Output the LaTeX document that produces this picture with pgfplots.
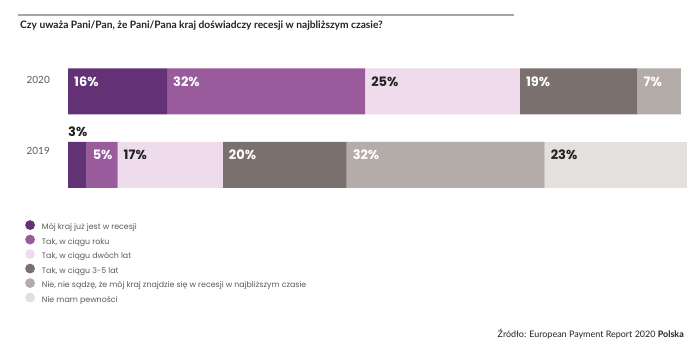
\documentclass[border=0pt]{standalone}
\usepackage{pgfplots}
\pgfplotsset{compat=1.18}
\usepackage{fontspec}
\setmainfont{Lato}
\newfontfamily\labfont{Poppins}
\definecolor{c1}{HTML}{633276}
\definecolor{c2}{HTML}{9A5B9C}
\definecolor{c3}{HTML}{EEDCEC}
\definecolor{c4}{HTML}{7A706D}
\definecolor{c5}{HTML}{B3ACA8}
\definecolor{c6}{HTML}{E3E0DD}
\definecolor{tdark}{HTML}{222222}
\definecolor{tgray}{HTML}{5A5A5A}
\begin{document}
\begin{tikzpicture}
\path[use as bounding box, fill=white] (0,0) rectangle (700bp,354bp);
\draw[color=gray!70, line width=1.3bp] (18bp,339bp) -- (514bp,339bp);
\node[anchor=west, inner sep=0pt, font=\fontsize{10.25}{12}\selectfont\bfseries, text=tdark] at (20bp,328bp) {Czy uważa Pani/Pan, że Pani/Pana kraj doświadczy recesji w najbliższym czasie?};
\node[anchor=south east, inner sep=0pt, font=\fontsize{9}{10}\selectfont, text=tdark] at (684bp,15bp) {Źródło: European Payment Report 2020 \textbf{Polska}};
\begin{axis}[
  at={(68bp,152.25bp)}, anchor=south west,
  scale only axis, width=619bp, height=147bp,
  xmin=0, xmax=100, ymin=-0.5, ymax=1.5,
  hide axis,
  xbar stacked, bar width=46bp,
  clip=false,
  legend style={at={(axis description cs:-0.0695,-0.124)}, anchor=north west,
    draw=none, fill=none, inner sep=0pt, column sep=7bp, row sep=3.4bp,
    font=\labfont\fontsize{7.9}{9}\selectfont, text=tgray,
    nodes={inner sep=0pt, text height=5.5bp, text depth=1.5bp}},
  legend cell align=left,
  legend image code/.code={\fill[#1] (5bp,2.7bp) circle (4.9bp);},
]
\addplot[fill=c1, draw=none] coordinates {(16,1) (3,0)};
\addplot[fill=c2, draw=none] coordinates {(32,1) (5,0)};
\addplot[fill=c3, draw=none] coordinates {(25,1) (17,0)};
\addplot[fill=c4, draw=none] coordinates {(19,1) (20,0)};
\addplot[fill=c5, draw=none] coordinates {(7,1) (32,0)};
\addplot[fill=c6, draw=none] coordinates {(0,1) (23,0)};
\legend{Mój kraj już jest w recesji, {Tak, w ciągu roku}, {Tak, w ciągu dwóch lat}, {Tak, w ciągu 3-5 lat}, {Nie, nie sądzę, że mój kraj znajdzie się w recesji w najbliższym czasie}, Nie mam pewności}
\coordinate (a0) at (axis cs:0,1);
\coordinate (a1) at (axis cs:16,1);
\coordinate (a2) at (axis cs:48,1);
\coordinate (a3) at (axis cs:73,1);
\coordinate (a4) at (axis cs:92,1);
\coordinate (b0) at (axis cs:0,0);
\coordinate (b1) at (axis cs:3,0);
\coordinate (b2) at (axis cs:8,0);
\coordinate (b3) at (axis cs:25,0);
\coordinate (b4) at (axis cs:45,0);
\coordinate (b5) at (axis cs:77,0);
\end{axis}
% year labels
\node[anchor=east, inner sep=0pt, font=\fontsize{10}{12}\selectfont, text=tgray] at (a0) [xshift=-18bp, yshift=12bp] {2020};
\node[anchor=east, inner sep=0pt, font=\fontsize{10}{12}\selectfont, text=tgray] at (b0) [xshift=-18bp, yshift=14bp] {2019};
% segment labels
\tikzset{lab/.style={anchor=west, inner sep=0pt, xshift=6bp, font=\labfont\fontsize{13}{15}\selectfont\bfseries}}
\node[lab, text=white, yshift=9.5bp] at (a0) {16\%};
\node[lab, text=white, yshift=9.5bp] at (a1) {32\%};
\node[lab, text=tdark, yshift=9.5bp] at (a2) {25\%};
\node[lab, text=white, yshift=9.5bp] at (a3) {19\%};
\node[lab, text=white, yshift=9.5bp] at (a4) {7\%};
\node[lab, text=tdark, xshift=-6bp, yshift=33bp] at (b0) {3\%};
\node[lab, text=white, yshift=10bp] at (b1) {5\%};
\node[lab, text=tdark, yshift=10bp] at (b2) {17\%};
\node[lab, text=white, yshift=10bp] at (b3) {20\%};
\node[lab, text=white, yshift=10bp] at (b4) {32\%};
\node[lab, text=tdark, yshift=10bp] at (b5) {23\%};
\end{tikzpicture}
\end{document}
